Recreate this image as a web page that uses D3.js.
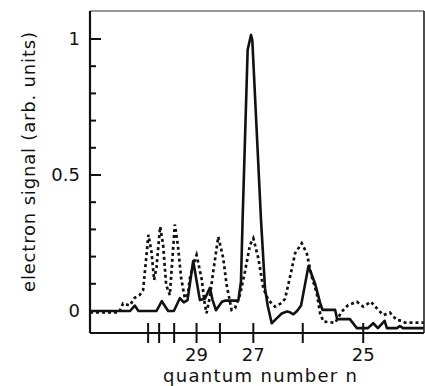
<!DOCTYPE html>
<head>
    <meta charset="utf-8">
    <title>electron signal vs quantum number</title>
    <style>
        body { margin: 0; background: #fff; }
        text { font-family: "DejaVu Sans", "Liberation Sans", sans-serif; fill: #111; }
    </style>
</head>

<body>

    <svg width="425" height="386"></svg>

    <script src="https://d3js.org/d3.v7.min.js"></script>

    <script>

        // scan coordinate (arb., 0-100 across the frame) and signal
        var solidX = [0, 12.0, 13.4, 14.5, 19.9, 21.5, 23.4, 25.1, 26.9, 28.1, 29.2, 30.9, 32.9, 34.4, 35.9, 36.7, 37.7, 39.5, 40.4, 44.4, 45.2, 45.7, 47.2, 48.2, 48.6, 51.2, 52.4, 53.2, 54.4, 55.9, 57.4, 59.0, 59.9, 60.9, 62.0, 63.2, 65.4, 67.4, 68.9, 69.6, 73.4, 74.0, 77.8, 79.9, 83.2, 84.8, 86.2, 88.2, 88.9, 91.9, 92.8, 93.7, 100];
        var solidY = [0, 0, 0.02, 0, 0, 0.036, 0, 0, 0.047, 0.032, 0.04, 0.184, 0.04, 0.045, 0.085, 0.04, 0.003, 0.034, 0.038, 0.038, 0.108, 0.34, 0.96, 1.015, 0.995, 0.335, 0.083, 0.02, -0.045, -0.027, -0.009, -0.002, -0.005, -0.012, 0, 0.02, 0.165, 0.1, 0.03, 0.004, 0.004, -0.03, -0.03, -0.063, -0.063, -0.045, -0.063, -0.036, -0.063, -0.063, -0.055, -0.063, -0.063];

        var dottedX = [0, 8.7, 9.9, 11.9, 13.4, 14.9, 15.9, 17.5, 18.4, 19.2, 19.9, 21.0, 21.9, 22.8, 23.9, 25.4, 26.3, 27.3, 28.4, 29.3, 29.9, 30.9, 31.9, 33.4, 34.4, 34.9, 35.9, 36.9, 38.4, 39.9, 40.9, 42.4, 43.4, 44.9, 46.4, 47.9, 48.9, 50.4, 51.9, 53.4, 55.4, 57.4, 58.4, 59.9, 61.4, 63.4, 64.9, 66.4, 67.9, 68.9, 69.9, 73.4, 75.4, 77.3, 79.9, 81.8, 84.1, 86.3, 87.8, 89.8, 91.8, 93.4, 94.3, 100];
        var dottedY = [-0.005, -0.005, 0.028, 0.02, 0.049, 0.059, 0.077, 0.28, 0.218, 0.114, 0.16, 0.31, 0.243, 0.096, 0.059, 0.318, 0.243, 0.12, 0.047, 0.06, 0.12, 0.17, 0.206, 0.12, 0.022, -0.008, 0.053, 0.145, 0.273, 0.194, 0.096, 0.004, 0.01, 0.059, 0.145, 0.243, 0.267, 0.194, 0.083, 0.04, 0.016, 0.03, 0.045, 0.126, 0.212, 0.249, 0.212, 0.126, 0.065, -0.009, -0.039, -0.043, -0.002, 0.022, 0.034, 0.016, 0.034, 0.004, -0.015, -0.006, -0.033, -0.036, -0.043, -0.043];

        // positions of quantum number n on the scan axis
        var nTicks = [17.4, 20.7, 25.2, 31.9, 38.9, 48.9, 63.7, 81.8];
        var nValues = [32, 31, 30, 29, 28, 27, 26, 25];
        var nLabels = ["", "", "", "29", "", "27", "", "25"];

        var yTicks = [0, 0.1, 0.2, 0.3, 0.4, 0.5, 0.6, 0.7, 0.8, 0.9, 1];
        var yLabels = { 0: "0", 0.5: "0.5", 1: "1" };

        var svg = d3.select("svg"),
            margin = { top: 11, right: 1, bottom: 53, left: 90 },
            width = svg.attr("width") - margin.left - margin.right,
            height = svg.attr("height") - margin.top - margin.bottom;

        var x = d3.scaleLinear().domain([0, 100]).range([0, width]),
            y = d3.scaleLinear().domain([0, 1]).range([300, 28]);

        var g = svg.append("g")
            .attr("transform", "translate(" + margin.left + "," + margin.top + ")");

        var line = d3.line()
            .x(function (d) { return x(d[0]); })
            .y(function (d) { return y(d[1]); });

        var dotted = d3.zip(dottedX, dottedY),
            solid = d3.zip(solidX, solidY);

        g.append("path")
            .datum(dotted)
            .attr("fill", "none")
            .attr("stroke", "#111")
            .attr("stroke-width", 2.7)
            .attr("stroke-dasharray", "3,3")
            .attr("d", line);

        g.append("path")
            .datum(solid)
            .attr("fill", "none")
            .attr("stroke", "#111")
            .attr("stroke-width", 2.6)
            .attr("stroke-linejoin", "round")
            .attr("d", line);

        // frame
        g.append("line").attr("x1", 0).attr("x2", width).attr("y1", 0).attr("y2", 0)
            .attr("stroke", "#333").attr("stroke-width", 1.2);
        g.append("line").attr("x1", width).attr("x2", width).attr("y1", 0).attr("y2", height)
            .attr("stroke", "#222").attr("stroke-width", 1.6);

        // left axis: ticks inward
        var yAxis = g.append("g");
        yAxis.append("line").attr("x1", 0).attr("x2", 0).attr("y1", 0).attr("y2", height)
            .attr("stroke", "#111").attr("stroke-width", 2.2);
        yAxis.selectAll(".tick")
            .data(yTicks)
            .enter().append("line")
            .attr("x1", 0)
            .attr("x2", function (d) { return yLabels[d] !== undefined ? 11 : 6; })
            .attr("y1", function (d) { return y(d); })
            .attr("y2", function (d) { return y(d); })
            .attr("stroke", "#111")
            .attr("stroke-width", 2);
        yAxis.selectAll(".lab")
            .data(yTicks.filter(function (d) { return yLabels[d] !== undefined; }))
            .enter().append("text")
            .attr("x", -10)
            .attr("y", function (d) { return y(d); })
            .attr("dy", ".36em")
            .style("font-size", "18px")
            .style("text-anchor", "end")
            .text(function (d) { return yLabels[d]; });

        // bottom axis: ticks cross the line
        var xAxis = g.append("g").attr("transform", "translate(0," + height + ")");
        xAxis.append("line").attr("x1", 0).attr("x2", width).attr("y1", 0).attr("y2", 0)
            .attr("stroke", "#111").attr("stroke-width", 2.2);
        xAxis.selectAll(".tick")
            .data(nTicks)
            .enter().append("line")
            .attr("x1", function (d) { return x(d); })
            .attr("x2", function (d) { return x(d); })
            .attr("y1", -10)
            .attr("y2", 10)
            .attr("stroke", "#111")
            .attr("stroke-width", 2);
        xAxis.selectAll(".lab")
            .data(nTicks.filter(function (d, i) { return nLabels[i] !== ""; }))
            .enter().append("text")
            .attr("x", function (d) { return x(d); })
            .attr("y", 28)
            .style("font-size", "18px")
            .style("text-anchor", "middle")
            .text(function (d) { return nLabels[nTicks.indexOf(d)]; });

        svg.append("text")
            .attr("x", 260)
            .attr("y", 382)
            .attr("textLength", 194)
            .attr("lengthAdjust", "spacing")
            .style("font-size", "18px")
            .style("text-anchor", "middle")
            .text("quantum number n");

        svg.append("text")
            .attr("transform", "translate(35,162) rotate(-90)")
            .attr("textLength", 260)
            .attr("lengthAdjust", "spacing")
            .style("font-size", "18px")
            .style("text-anchor", "middle")
            .text("electron signal (arb. units)");

    </script>

</body>
